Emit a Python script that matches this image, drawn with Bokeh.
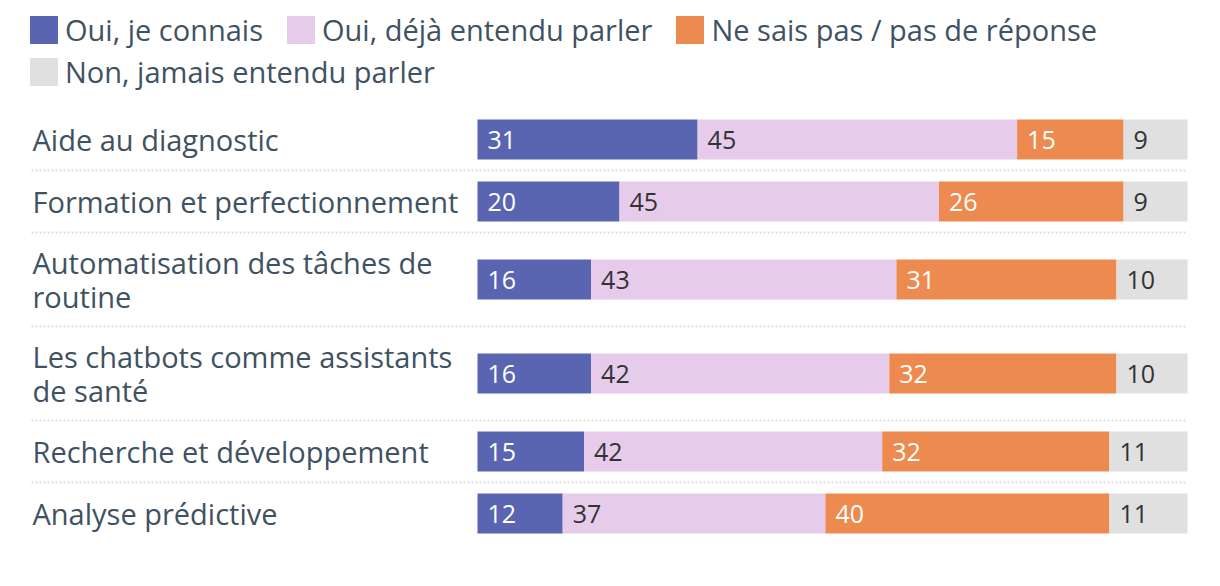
from bokeh.plotting import figure
from bokeh.models import Range1d, ColumnDataSource, Legend, LegendItem
from bokeh.core.properties import value
from bokeh.embed import file_html
from bokeh.resources import INLINE

categories = [
    "Aide au diagnostic",
    "Formation et perfectionnement",
    "Automatisation des tâches de\nroutine",
    "Les chatbots comme assistants\nde santé",
    "Recherche et développement",
    "Analyse prédictive",
]
series_names = [
    "Oui, je connais",
    "Oui, déjà entendu parler",
    "Ne sais pas / pas de réponse",
    "Non, jamais entendu parler",
]
connais = [31, 20, 16, 16, 15, 12]
entendu = [45, 45, 43, 42, 42, 37]
nsp = [15, 26, 31, 32, 32, 40]
jamais = [9, 9, 10, 10, 11, 11]

colors = ["#5a65b2", "#e6cbeb", "#ed8a4f", "#e0e0e0"]
value_colors = ["#ffffff", "#333333", "#ffffff", "#333333"]
label_color = "#3f5262"
FONT = "Open Sans"

W, H = 1212, 570
bar_left = 477      # frame px where 0% starts
bar_px = 710        # px for 100%
scale = bar_px / 100.0
x0 = -bar_left / scale
x1 = (W - bar_left) / scale

p = figure(width=W, height=H, output_backend="svg", toolbar_location=None,
           x_range=Range1d(x0, x1), y_range=Range1d(H, 0),
           min_border=0, outline_line_color=None)
p.axis.visible = False
p.grid.visible = False

# row layout: band height depends on number of label lines
top = 108
bands = []
y = top
for c in categories:
    n = c.count("\n") + 1
    h = 30 + 32 * n
    bands.append((y, y + h))
    y += h
centers = [(a + b) / 2 for a, b in bands]

# separators
sep_y = [b for (_, b) in bands[:-1]]
p.segment(x0=[x0 + 31 / scale] * len(sep_y), x1=[100] * len(sep_y), y0=sep_y, y1=sep_y,
          line_color="#dddddd", line_width=2, line_dash="2 2")

series = [connais, entendu, nsp, jamais]
renderers = []
left = [0] * len(categories)
for i, vals in enumerate(series):
    right = [l + v for l, v in zip(left, vals)]
    src = ColumnDataSource(dict(y=centers, left=left, right=right,
                                txt=[str(v) for v in vals]))
    r = p.hbar(y="y", left="left", right="right", height=40, source=src,
               fill_color=colors[i], line_color=None)
    renderers.append(r)
    p.text(x="left", y="y", text="txt", source=src, x_offset=10,
           text_color=value_colors[i], text_font=value(FONT), text_font_size="25px",
           text_baseline="middle", text_align="left")
    left = right

# category labels
p.text(x=[x0 + 32 / scale] * len(categories), y=centers, text=categories,
       text_color=label_color, text_font=value(FONT), text_font_size="29px",
       text_baseline="middle", text_align="left", text_line_height=0.89)

def make_legend(items, loc):
    lg = Legend(items=items, location=loc, orientation="horizontal",
                glyph_width=35, glyph_height=35, label_standoff=4, spacing=20,
                padding=0, margin=0, border_line_color=None, background_fill_alpha=0,
                label_text_font=FONT, label_text_font_size="29px",
                label_text_color=label_color, label_height=35)
    return lg

lg1 = make_legend([LegendItem(label=series_names[k], renderers=[renderers[k]]) for k in range(3)],
                  (26, H - 14 - 35))
lg2 = make_legend([LegendItem(label=series_names[3], renderers=[renderers[3]])],
                  (26, H - 56 - 35))
p.add_layout(lg1, "center")
p.add_layout(lg2, "center")

open("out.html", "w").write(file_html(p, INLINE))
